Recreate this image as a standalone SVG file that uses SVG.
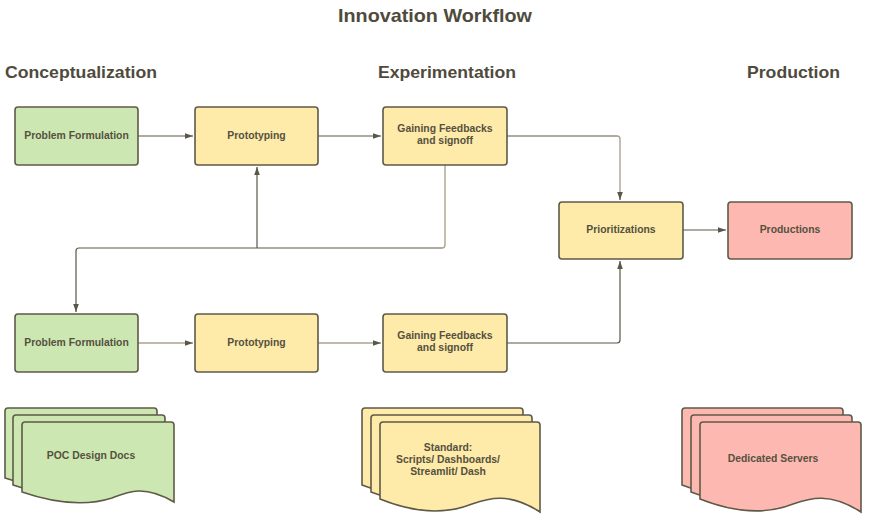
<svg xmlns="http://www.w3.org/2000/svg" width="869" height="522" viewBox="0 0 869 522">
<defs>
<style>
text{font-family:"Liberation Sans",Arial,sans-serif;font-weight:bold;fill:#4f4b3c;text-anchor:middle}
.title{font-size:19px}
.head{font-size:17px}
.lbl{font-size:10.4px;fill:#55513f}
.box{stroke:#5f5a48;stroke-width:1.6}
.g{fill:#cde7b2}
.y{fill:#feeaa9}
.p{fill:#fdb9b1}
.c{fill:none;stroke:#5a5646;stroke-width:1.2}
.cl{fill:none;stroke:#aaa38d;stroke-width:1.4}
</style>
<marker id="ah" viewBox="0 0 10 10" refX="10" refY="5" markerWidth="8" markerHeight="8" markerUnits="userSpaceOnUse" orient="auto">
<path d="M0,1.5 L10,5 L0,8.5 z" fill="#5a5646"/>
</marker>
</defs>
<rect width="869" height="522" fill="#ffffff"/>
<g id="titles">
<text class="title" x="435" y="22" textLength="194" lengthAdjust="spacingAndGlyphs">Innovation Workflow</text>
<text class="head" x="81" y="78" textLength="152" lengthAdjust="spacingAndGlyphs">Conceptualization</text>
<text class="head" x="447" y="78" textLength="138" lengthAdjust="spacingAndGlyphs">Experimentation</text>
<text class="head" x="793.5" y="78" textLength="93" lengthAdjust="spacingAndGlyphs">Production</text>
</g>
<g id="connectors">
<path class="c" d="M138,136 H193" marker-end="url(#ah)"/>
<path class="c" d="M318,136 H381" marker-end="url(#ah)"/>
<path class="c" d="M507,136 H617"/>
<path class="cl" d="M617,136 Q620,136 620,139 V196"/>
<path class="c" d="M620,192 V200" marker-end="url(#ah)"/>
<path class="c" d="M683,230 H726" marker-end="url(#ah)"/>
<path class="cl" d="M445,165 V245 Q445,248 442,248"/>
<path class="c" d="M442,248 H79 Q76,248 76,251 V312" marker-end="url(#ah)"/>
<path class="c" d="M257,248 V167" marker-end="url(#ah)"/>
<path class="cl" d="M138,343 H193" marker-end="url(#ah)"/>
<path class="cl" d="M318,343 H381" marker-end="url(#ah)"/>
<path class="c" d="M507,343 H617 Q620,343 620,340 V261" marker-end="url(#ah)"/>
</g>
<g id="pf1"><rect class="box g" x="15" y="107" width="123" height="58" rx="3"/><text class="lbl" x="76.5" y="139">Problem Formulation</text></g>
<g id="proto1"><rect class="box y" x="195" y="107" width="123" height="58" rx="3"/><text class="lbl" x="256.5" y="139">Prototyping</text></g>
<g id="gain1"><rect class="box y" x="383" y="107" width="124" height="58" rx="3"/><text class="lbl" x="445" y="132">Gaining Feedbacks</text><text class="lbl" x="445" y="144">and signoff</text></g>
<g id="prio"><rect class="box y" x="559" y="202" width="124" height="57" rx="3"/><text class="lbl" x="621" y="233">Prioritizations</text></g>
<g id="prod"><rect class="box p" x="728" y="202" width="124" height="57" rx="3"/><text class="lbl" x="790" y="233">Productions</text></g>
<g id="pf2"><rect class="box g" x="15" y="314" width="123" height="58" rx="3"/><text class="lbl" x="76.5" y="346">Problem Formulation</text></g>
<g id="proto2"><rect class="box y" x="195" y="314" width="123" height="58" rx="3"/><text class="lbl" x="256.5" y="346">Prototyping</text></g>
<g id="gain2"><rect class="box y" x="383" y="314" width="124" height="58" rx="3"/><text class="lbl" x="445" y="339">Gaining Feedbacks</text><text class="lbl" x="445" y="351">and signoff</text></g>
<g id="docs-poc">
<path class="box g" d="M5,411 Q5,408 8,408 H154 Q157,408 157,411 V488 C127,470 110,478 95,484 C70,492 40,490 5,478 Z"/>
<path class="box g" d="M13,418 Q13,415 16,415 H162 Q165,415 165,418 V495 C135,477 118,485 103,491 C78,499 48,497 13,485 Z"/>
<path class="box g" d="M22,425 Q22,422 25,422 H171 Q174,422 174,425 V502 C144,484 127,492 112,498 C87,506 57,504 22,492 Z"/>
<text class="lbl" x="91" y="459">POC Design Docs</text>
</g>
<g id="docs-std">
<path class="box y" d="M362,411 Q362,408 365,408 H520 Q523,408 523,411 V498 C492,478 472,484 455,490 C430,500 400,500 362,485 Z"/>
<path class="box y" d="M371,418 Q371,415 374,415 H529 Q532,415 532,418 V505 C501,485 481,491 464,497 C439,507 409,507 371,492 Z"/>
<path class="box y" d="M380,425 Q380,422 383,422 H537 Q540,422 540,425 V512 C509,492 489,498 472,504 C447,514 417,514 380,499 Z"/>
<text class="lbl" x="448" y="451">Standard:</text>
<text class="lbl" x="448" y="463">Scripts/ Dashboards/</text>
<text class="lbl" x="448" y="475">Streamlit/ Dash</text>
</g>
<g id="docs-srv">
<path class="box p" d="M682,411 Q682,408 685,408 H840 Q843,408 843,411 V498 C812,478 792,484 775,490 C750,500 720,500 682,485 Z"/>
<path class="box p" d="M691,418 Q691,415 694,415 H849 Q852,415 852,418 V505 C821,485 801,491 784,497 C759,507 729,507 691,492 Z"/>
<path class="box p" d="M700,425 Q700,422 703,422 H858 Q861,422 861,425 V512 C830,492 810,498 793,504 C768,514 738,514 700,499 Z"/>
<text class="lbl" x="773" y="462">Dedicated Servers</text>
</g>
</svg>
